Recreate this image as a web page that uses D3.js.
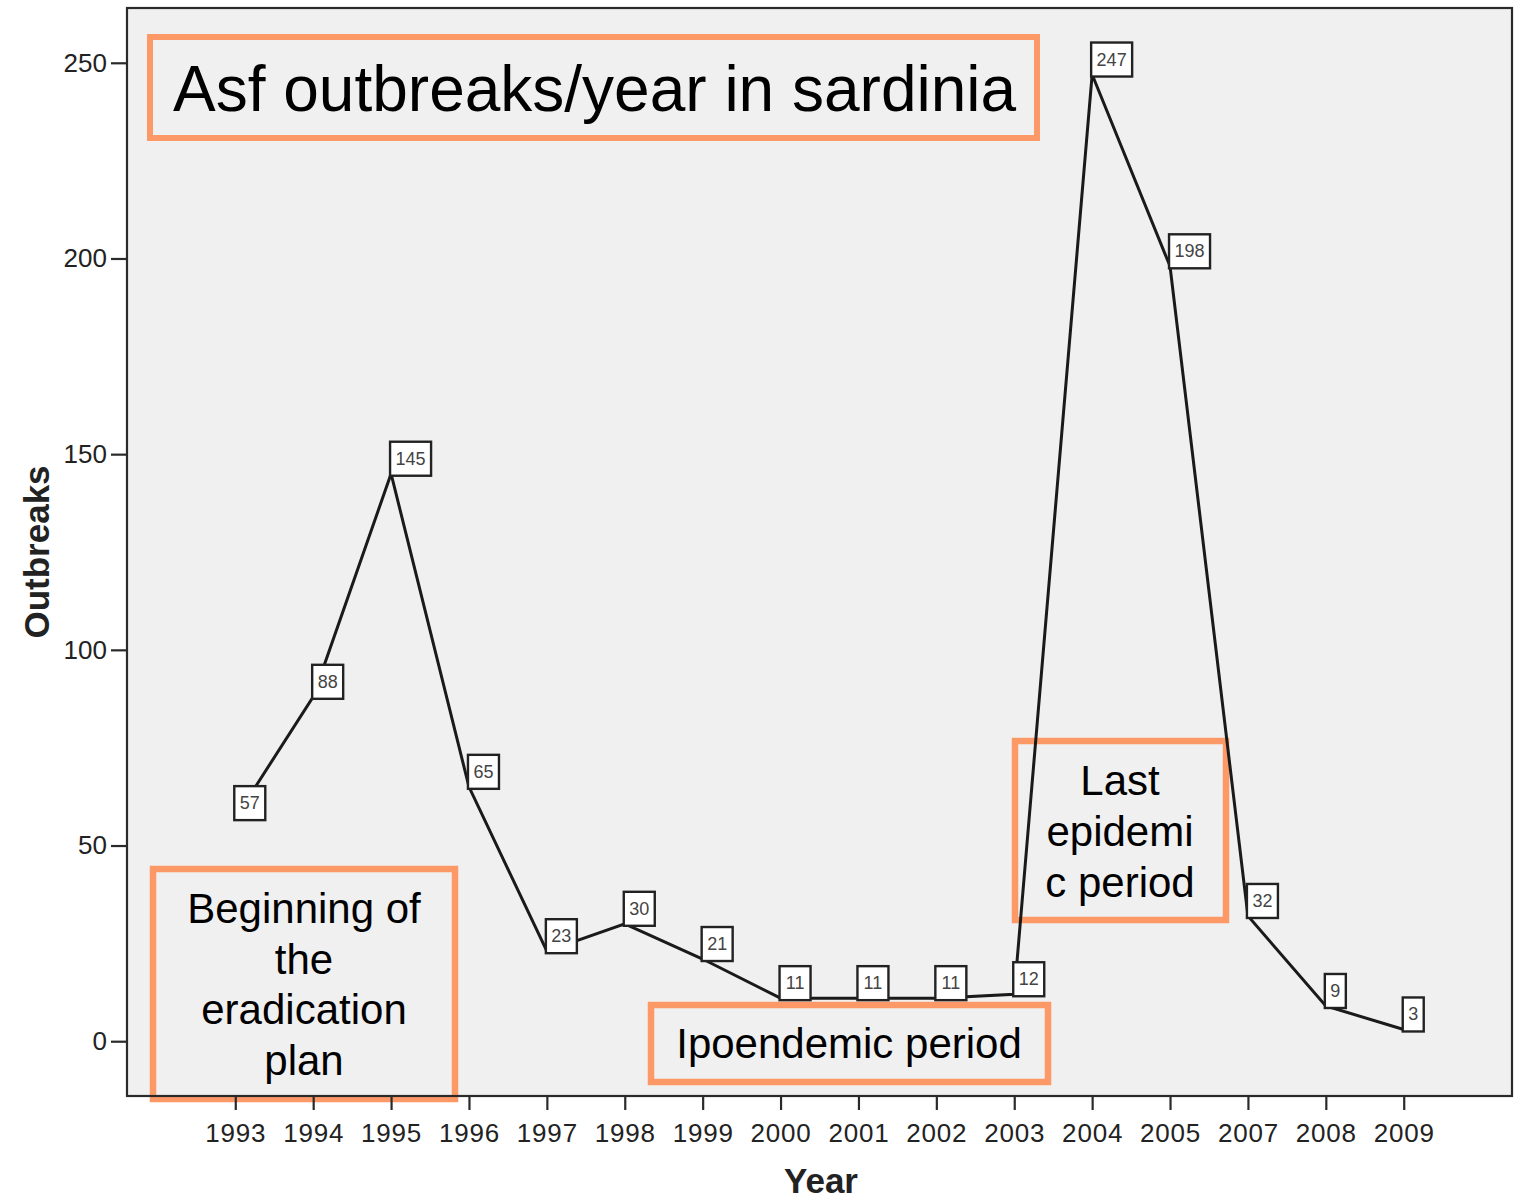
<!DOCTYPE html>
<html>
<head>
<meta charset="utf-8">
<script src="https://cdn.jsdelivr.net/npm/d3@7"></script>
<style>
  body { margin: 0; background: #fff; }
  text { font-family: "Liberation Sans", Arial, sans-serif; }
</style>
</head>
<body>
<div class="chart"></div>
<script>
var w = 1514,
    h = 1202;

// data
var years = ['1993', '1994', '1995', '1996', '1997', '1998', '1999', '2000',
             '2001', '2002', '2003', '2004', '2005', '2007', '2008', '2009'];
var outbreaks = [57, 88, 145, 65, 23, 30, 21, 11, 11, 11, 12, 247, 198, 32, 9, 3];
var yTicks = [0, 50, 100, 150, 200, 250];

var titleText = 'Asf outbreaks/year in sardinia';
var notes = [
  {lines: ['Beginning of', 'the', 'eradication', 'plan'], x0: 153, y0: 869, x1: 455, y1: 1099, cx: 304, base: 923, lh: 50.5},
  {lines: ['Ipoendemic period'], x0: 651, y0: 1005, x1: 1048, y1: 1082, cx: 849, base: 1058, lh: 50},
  {lines: ['Last', 'epidemi', 'c period'], x0: 1015, y0: 741, x1: 1226, y1: 920, cx: 1120, base: 795, lh: 51}
];

var orange = '#fd9966';

var svg = d3.select('.chart').append('svg').attr('width', w).attr('height', h);

var pLeft = 127, pRight = 1512, pTop = 8, pBottom = 1096;

var x = d3.scalePoint().domain(years).range([pLeft, pRight]).padding(1.39);
var y = d3.scaleLinear().domain([-14, 264]).range([pBottom, pTop]);

// plot background
svg.append('rect')
  .attr('x', pLeft).attr('y', pTop)
  .attr('width', pRight - pLeft).attr('height', pBottom - pTop)
  .attr('fill', '#f0f0f0');

// orange annotation boxes
svg.append('rect')
  .attr('x', 150).attr('y', 37).attr('width', 887).attr('height', 101)
  .attr('fill', 'none').attr('stroke', orange).attr('stroke-width', 6);
svg.append('text')
  .attr('x', 173).attr('y', 111)
  .attr('font-size', 64).attr('fill', '#000')
  .text(titleText);

notes.forEach(function (n) {
  svg.append('rect')
    .attr('x', n.x0).attr('y', n.y0)
    .attr('width', n.x1 - n.x0).attr('height', n.y1 - n.y0)
    .attr('fill', 'none').attr('stroke', orange).attr('stroke-width', 6.5);
  n.lines.forEach(function (l, i) {
    svg.append('text')
      .attr('x', n.cx).attr('y', n.base + i * n.lh)
      .attr('text-anchor', 'middle')
      .attr('font-size', 42).attr('fill', '#000')
      .text(l);
  });
});

// frame
svg.append('rect')
  .attr('x', pLeft).attr('y', pTop)
  .attr('width', pRight - pLeft).attr('height', pBottom - pTop)
  .attr('fill', 'none').attr('stroke', '#2a2a2a').attr('stroke-width', 2.2);

// axes
var yAxis = svg.append('g')
  .attr('transform', 'translate(' + pLeft + ',0)')
  .call(d3.axisLeft(y).tickValues(yTicks).tickSize(16).tickPadding(4));
var xAxis = svg.append('g')
  .attr('transform', 'translate(0,' + pBottom + ')')
  .call(d3.axisBottom(x).tickSize(14).tickPadding(14));

[yAxis, xAxis].forEach(function (g) {
  g.select('.domain').remove();
  g.selectAll('.tick line').attr('stroke', '#2a2a2a').attr('stroke-width', 2.2);
  g.selectAll('.tick text')
    .attr('font-size', 26)
    .attr('font-family', '"Liberation Sans", Arial, sans-serif')
    .attr('fill', '#222');
});
xAxis.selectAll('.tick text').attr('letter-spacing', 0.8);

svg.append('text')
  .attr('x', 821).attr('y', 1193)
  .attr('text-anchor', 'middle')
  .attr('font-size', 35).attr('font-weight', 'bold').attr('fill', '#222')
  .text('Year');
svg.append('text')
  .attr('transform', 'translate(49,552) rotate(-90)')
  .attr('text-anchor', 'middle')
  .attr('font-size', 35).attr('font-weight', 'bold').attr('fill', '#222')
  .text('Outbreaks');

// the line
var pts = years.map(function (yr, i) { return {year: yr, v: outbreaks[i]}; });

var line = d3.line()
  .x(function (d) { return x(d.year); })
  .y(function (d) { return y(d.v); });

svg.append('path')
  .datum(pts)
  .attr('d', line)
  .attr('fill', 'none')
  .attr('stroke', '#1a1a1a')
  .attr('stroke-width', 3);

// value labels, bottom-left corner on the point
var labels = svg.selectAll('g.lab')
  .data(pts)
  .enter()
  .append('g')
  .attr('class', 'lab')
  .attr('transform', function (d) {
    return 'translate(' + (x(d.year) - 1) + ',' + (y(d.v) + 2) + ')';
  });

labels.append('rect')
  .attr('x', 0)
  .attr('y', -34)
  .attr('width', function (d) { return String(d.v).length * 10 + 11; })
  .attr('height', 34)
  .attr('fill', '#fff')
  .attr('stroke', '#222')
  .attr('stroke-width', 2.4);

labels.append('text')
  .attr('x', function (d) { return (String(d.v).length * 10 + 11) / 2; })
  .attr('y', -11)
  .attr('text-anchor', 'middle')
  .attr('font-size', 18)
  .attr('fill', '#444')
  .text(function (d) { return d.v; });
</script>
</body>
</html>
